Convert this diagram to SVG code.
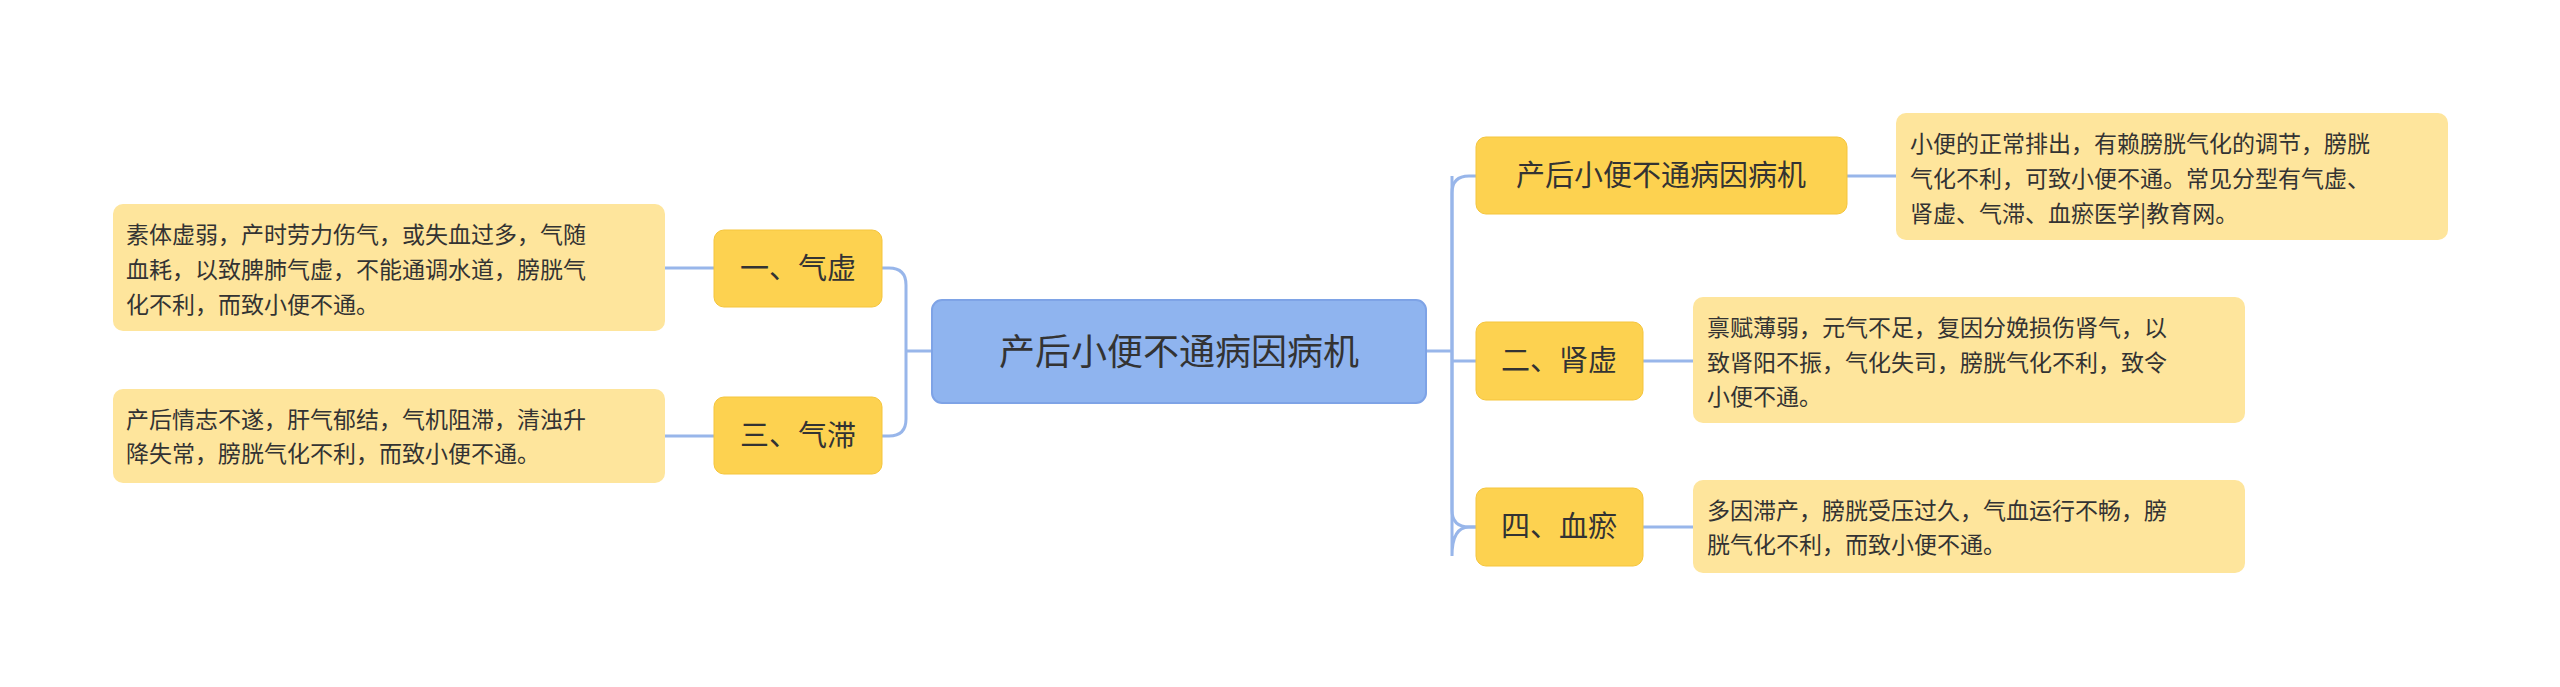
<svg xmlns="http://www.w3.org/2000/svg" width="2560" height="687" viewBox="0 0 2560 687">
<style>
text{font-family:"Noto Sans CJK SC","Noto Sans",sans-serif;fill:#333}
.c{fill:#8fb4ef;stroke:#7ea3e6;stroke-width:2}
.n{fill:#fdd250;stroke:#f5c53c;stroke-width:1}
.b{fill:#fee59c}
.l{fill:none;stroke:#98b6ea;stroke-width:3}
.t{font-size:23px}
.s{font-size:29px}
</style>
<rect width="2560" height="687" fill="#fff"/>
<g id="connectors">
<path class="l" d="M1426 351H1452M1452 351V193Q1452 176 1469 176H1476M1452 351V556Q1452 527 1469 527H1476"/>
<path class="l" d="M1452 176V351"/>
<path class="l" d="M1452 351V510Q1452 527 1469 527H1476M1452 361H1476"/>
<path class="l" d="M1847 176H1896M1643 361H1693M1643 527H1693"/>
<path class="l" d="M932 351H906M906 351V285Q906 268 889 268H882M906 351V419Q906 436 889 436H882"/>
<path class="l" d="M714 268H665M714 436H665"/>
</g>
<g id="center"><rect class="c" x="932" y="300" width="494" height="103" rx="10"/><text x="1179" y="365" font-size="36" text-anchor="middle">产后小便不通病因病机</text></g>
<g id="n1"><rect class="n" x="714" y="230" width="168" height="77" rx="10"/><text class="s" x="798" y="279" text-anchor="middle">一、气虚</text></g>
<g id="n3"><rect class="n" x="714" y="397" width="168" height="77" rx="10"/><text class="s" x="798" y="446" text-anchor="middle">三、气滞</text></g>
<g id="n0"><rect class="n" x="1476" y="137" width="371" height="77" rx="10"/><text class="s" x="1661" y="186" text-anchor="middle">产后小便不通病因病机</text></g>
<g id="n2"><rect class="n" x="1476" y="322" width="167" height="78" rx="10"/><text class="s" x="1559" y="371" text-anchor="middle">二、肾虚</text></g>
<g id="n4"><rect class="n" x="1476" y="488" width="167" height="78" rx="10"/><text class="s" x="1559" y="537" text-anchor="middle">四、血瘀</text></g>
<g id="b1"><rect class="b" x="113" y="204" width="552" height="127" rx="10"/><text class="t" x="126"><tspan x="126" y="243">素体虚弱，产时劳力伤气，或失血过多，气随</tspan><tspan x="126" y="278">血耗，以致脾肺气虚，不能通调水道，膀胱气</tspan><tspan x="126" y="313">化不利，而致小便不通。</tspan></text></g>
<g id="b3"><rect class="b" x="113" y="389" width="552" height="94" rx="10"/><text class="t"><tspan x="126" y="428">产后情志不遂，肝气郁结，气机阻滞，清浊升</tspan><tspan x="126" y="462">降失常，膀胱气化不利，而致小便不通。</tspan></text></g>
<g id="b0"><rect class="b" x="1896" y="113" width="552" height="127" rx="10"/><text class="t"><tspan x="1910" y="152">小便的正常排出，有赖膀胱气化的调节，膀胱</tspan><tspan x="1910" y="187">气化不利，可致小便不通。常见分型有气虚、</tspan><tspan x="1910" y="222">肾虚、气滞、血瘀医学|教育网。</tspan></text></g>
<g id="b2"><rect class="b" x="1693" y="297" width="552" height="126" rx="10"/><text class="t"><tspan x="1707" y="336">禀赋薄弱，元气不足，复因分娩损伤肾气，以</tspan><tspan x="1707" y="371">致肾阳不振，气化失司，膀胱气化不利，致令</tspan><tspan x="1707" y="405">小便不通。</tspan></text></g>
<g id="b4"><rect class="b" x="1693" y="480" width="552" height="93" rx="10"/><text class="t"><tspan x="1707" y="519">多因滞产，膀胱受压过久，气血运行不畅，膀</tspan><tspan x="1707" y="553">胱气化不利，而致小便不通。</tspan></text></g>
</svg>
